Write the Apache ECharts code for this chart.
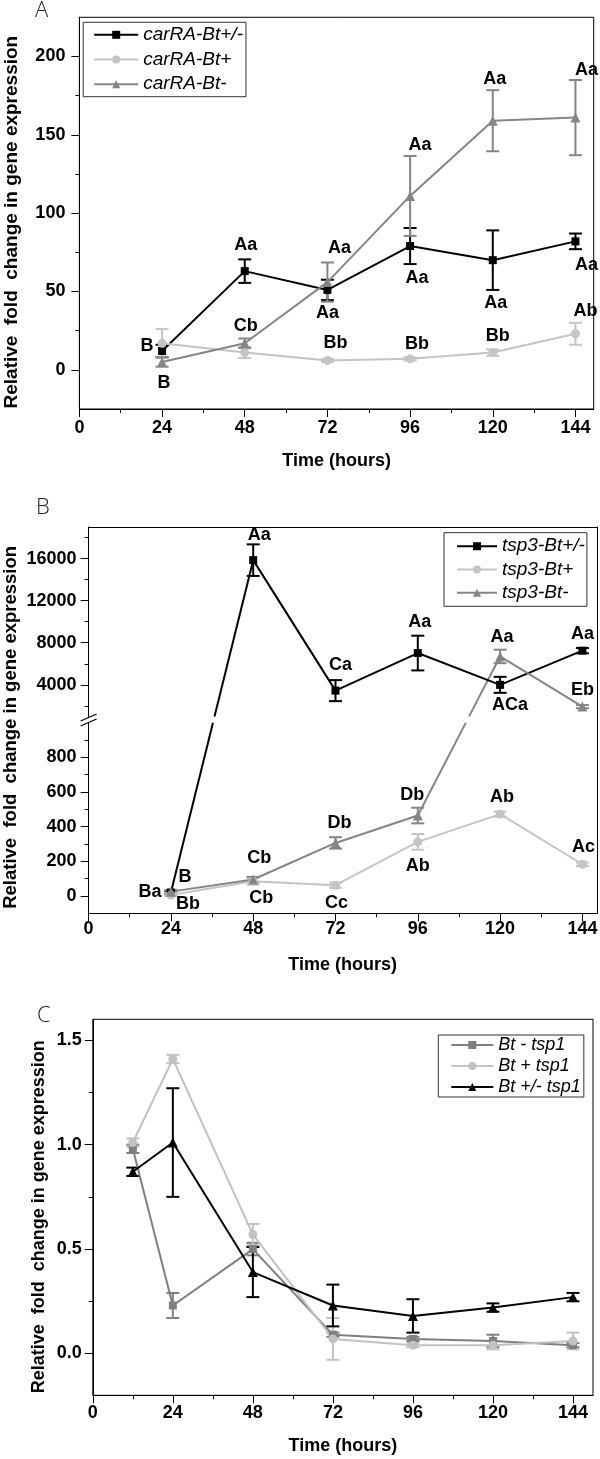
<!DOCTYPE html>
<html>
<head>
<meta charset="utf-8">
<script src="https://cdn.jsdelivr.net/npm/echarts@6.0.0/dist/echarts.min.js"></script>
<style>
html,body{margin:0;padding:0;background:#fff;}
#chart{width:600px;height:1459px;}
</style>
</head>
<body>
<div id="chart"></div>
<script>
// ================= DATA =================
// Panel A: carRA
const hoursA = [24, 48, 72, 96, 120, 144];
const carRA_pm = [12, 63, 51, 79, 70, 82];
const carRA_pm_err = [4, 7.5, 6.5, 11.5, 19, 5];
const carRA_plus = [17, 11, 6, 7, 11, 23];
const carRA_plus_err = [9, 3.5, 1, 1, 2, 7];
const carRA_minus = [5, 17, 56, 111, 159, 161];
const carRA_minus_err = [3, 3, 12.5, 25.5, 19.5, 24];

// Panel B: tsp3 (broken y axis at 1000)
const hoursB = [24, 48, 72, 96, 120, 144];
const tsp3_pm = [20, 15850, 3450, 7020, 4000, 7250];
const tsp3_pm_err = [10, 1500, 1000, 1650, 760, 250];
const tsp3_plus = [5, 85, 62, 312, 472, 183];
const tsp3_plus_err = [5, 20, 15, 45, 15, 10];
const tsp3_minus = [25, 95, 306, 464, 6700, 1930];
const tsp3_minus_err = [10, 15, 33, 45, 640, 150];
const breakB = 1000;

// Panel C: tsp1
const hoursC = [12, 24, 48, 72, 96, 120, 144];
const tsp1_minus = [0.98, 0.23, 0.50, 0.09, 0.07, 0.06, 0.04];
const tsp1_minus_err = [0.02, 0.06, 0.03, 0.01, 0.01, 0.03, 0.01];
const tsp1_plus = [1.01, 1.41, 0.57, 0.07, 0.04, 0.04, 0.06];
const tsp1_plus_err = [0.02, 0.02, 0.05, 0.10, 0.01, 0.02, 0.04];
const tsp1_pm = [0.87, 1.01, 0.39, 0.23, 0.18, 0.22, 0.27];
const tsp1_pm_err = [0.02, 0.26, 0.12, 0.10, 0.08, 0.02, 0.02];

// Tick labels
const ticksX = [0, 24, 48, 72, 96, 120, 144];
const minorX = [12, 36, 60, 84, 108, 132];
const ticksA = [0, 50, 100, 150, 200];
const minorA = [25, 75, 125, 175];
const ticksBup = [4000, 8000, 12000, 16000];
const minorBup = [2000, 6000, 10000, 14000, 18000];
const ticksBlo = [0, 200, 400, 600, 800];
const minorBlo = [100, 300, 500, 700, 900];
const ticksC = [0, 0.5, 1.0, 1.5];
const minorC = [0.25, 0.75, 1.25];

// Significance letters: [text, series key, point index]
const lettersA = [
  ['B','pm',0], ['B','minus',0], ['Aa','pm',1], ['Cb','minus',1],
  ['Aa','minus',2], ['Aa','pm',2], ['Bb','plus',2],
  ['Aa','minus',3], ['Aa','pm',3], ['Bb','plus',3],
  ['Aa','minus',4], ['Aa','pm',4], ['Bb','plus',4],
  ['Aa','minus',5], ['Aa','pm',5], ['Ab','plus',5]
];
const lettersB = [
  ['Ba','minus',0], ['B','pm',0], ['Bb','plus',0],
  ['Cb','minus',1], ['Cb','plus',1], ['Db','minus',2], ['Cc','plus',2],
  ['Db','minus',3], ['Ab','plus',3], ['Ab','plus',4], ['Ac','plus',5],
  ['Aa','pm',1], ['Ca','pm',2], ['Aa','pm',3], ['Aa','minus',4],
  ['ACa','pm',4], ['Aa','pm',5], ['Eb','minus',5]
];

// ================= LAYOUT / STYLE =================
const FONT = "'Liberation Sans', Arial, Helvetica, sans-serif";
const BLACK = '#000000', LIGHT = '#c4c4c4', DARK = '#858585';
const CAP = 13;
// pixel offsets of letters from their anchor points
const letterOffsetsA = [[-15,-5],[2,21.5],[1,-26],[1,-17],[12,-34],[0,23.5],[8,-17],
  [10,-51],[7,32],[7,-15],[2,-42],[3,43],[5,-17],[11,-48],[11,24],[10,-23]];
const letterOffsetsB = [[-21,0],[14,-15.5],[17,8.5],[6,-21],[8,17],[4,-20],[1,18],
  [-5.5,-21],[0,24.5],[2,-17],[1,-17],[6,-25],[5,-26],[2,-30.6],[2,-19],[10,20],[0,-17],[0,-17]];

const gridA = {left: 79.4, top: 17.3, width: 514.3, height: 391.7};
const gridBup = {left: 88.6, top: 527, width: 508.2, height: 189.4};
const gridBlo = {left: 88.6, top: 716.4, width: 508.2, height: 196.9};
const gridC = {left: 92.8, top: 1019.3, width: 500.2, height: 376};

const labelStyle = {color: '#000', fontFamily: FONT, fontSize: 18, fontWeight: 'bold'};
const lineSt = {color: '#000', width: 1};

function mainAxis(gi, min, max, ticks, o) {
  const a = {
    type: 'value', gridIndex: gi, min: min, max: max, position: o.position,
    axisLine: {show: true, onZero: false, lineStyle: lineSt},
    axisTick: {show: true, inside: false, length: 8, customValues: ticks, lineStyle: lineSt},
    axisLabel: Object.assign({show: true, customValues: ticks, margin: o.margin,
      formatter: o.formatter || (v => String(v))}, labelStyle),
    splitLine: {show: false}, splitArea: {show: false},
    nameMoveOverlap: false
  };
  if (o.name) {
    a.name = o.name; a.nameLocation = 'middle'; a.nameGap = o.nameGap;
    a.nameTextStyle = {color: '#000', fontFamily: FONT, fontSize: o.nameSize || 18, fontWeight: 'bold', padding: o.namePad || 0};
  }
  return a;
}
function minorAxis(gi, min, max, ticks, position) {
  return {
    type: 'value', gridIndex: gi, min: min, max: max, position: position,
    axisLine: {show: false, onZero: false},
    axisTick: {show: true, inside: false, length: 4, customValues: ticks, lineStyle: lineSt},
    axisLabel: {show: false}, splitLine: {show: false}
  };
}
function frameAxis(gi, min, max, position) {
  return {
    type: 'value', gridIndex: gi, min: min, max: max, position: position,
    axisLine: {show: true, onZero: false, lineStyle: lineSt},
    axisTick: {show: false}, axisLabel: {show: false}, splitLine: {show: false}
  };
}

const Y_TITLE = 'Relative  fold  change in gene expression';
const X_TITLE = 'Time (hours)';

const xAxis = [
  mainAxis(0, 0, 149.3, ticksX, {position: 'bottom', margin: 10, name: X_TITLE, nameGap: 43}), // 0
  minorAxis(0, 0, 149.3, minorX, 'bottom'),                                                 // 1
  frameAxis(1, 0, 148.2, 'top'),                                                            // 2 (B upper data axis)
  mainAxis(2, 0, 148.2, ticksX, {position: 'bottom', margin: 7, name: X_TITLE, nameGap: 43}), // 3
  minorAxis(2, 0, 148.2, minorX, 'bottom'),                                                 // 4
  mainAxis(3, 0, 150, ticksX, {position: 'bottom', margin: 9, name: X_TITLE, nameGap: 42}),   // 5
  minorAxis(3, 0, 150, minorX, 'bottom')                                                    // 6
];
const yAxis = [
  mainAxis(0, -25, 225, ticksA, {position: 'left', margin: 14, name: Y_TITLE, nameGap: 58, nameSize: 19, namePad: [0, 18, 0, 0]}), // 0
  minorAxis(0, -25, 225, minorA, 'left'),                 // 1
  mainAxis(1, 1000, 19000, ticksBup, {position: 'left', margin: 12}), // 2
  minorAxis(1, 1000, 19000, minorBup, 'left'),            // 3
  frameAxis(1, 1000, 19000, 'right'),                     // 4
  mainAxis(2, -100, 1036, ticksBlo, {position: 'left', margin: 12, name: Y_TITLE, nameGap: 68, nameSize: 18.5, namePad: [0, 0, 0, 175]}), // 5
  minorAxis(2, -100, 1036, minorBlo, 'left'),             // 6
  frameAxis(2, -100, 1036, 'right'),                      // 7
  mainAxis(3, -0.2, 1.6, ticksC, {position: 'left', margin: 11, formatter: v => Number(v).toFixed(1), name: Y_TITLE, nameGap: 45, nameSize: 18, namePad: [0, 19, 0, 0]}), // 8
  minorAxis(3, -0.2, 1.6, minorC, 'left')                 // 9
];

const series = [];
function addLine(name, xi, yi, xs, ys, color, symbol, size) {
  series.push({
    type: 'line', name: name, xAxisIndex: xi, yAxisIndex: yi,
    data: xs.map((x, i) => [x, ys[i]]),
    symbol: symbol, symbolSize: size, showSymbol: true, showAllSymbol: true,
    connectNulls: false, clip: true,
    lineStyle: {color: color, width: 2}, itemStyle: {color: color},
    emphasis: {disabled: true}, animation: false
  });
}
function addErr(xi, yi, xs, ys, es, color, keep) {
  const data = [];
  xs.forEach((x, i) => { if (!keep || keep(ys[i])) data.push([x, ys[i] - es[i], ys[i] + es[i]]); });
  series.push({
    type: 'custom', xAxisIndex: xi, yAxisIndex: yi, data: data,
    encode: {x: 0, y: [1, 2]}, silent: true, animation: false, clip: false,
    renderItem: function (params, api) {
      const x = api.value(0);
      const p1 = api.coord([x, api.value(1)]);
      const p2 = api.coord([x, api.value(2)]);
      const hw = CAP / 2;
      const st = {stroke: color, lineWidth: 2};
      return {type: 'group', children: [
        {type: 'line', shape: {x1: p1[0], y1: p1[1], x2: p2[0], y2: p2[1]}, style: st},
        {type: 'line', shape: {x1: p1[0] - hw, y1: p1[1], x2: p1[0] + hw, y2: p1[1]}, style: st},
        {type: 'line', shape: {x1: p2[0] - hw, y1: p2[1], x2: p2[0] + hw, y2: p2[1]}, style: st}
      ]};
    }
  });
}
function addLetters(letters, offsets, lookup, axesFor) {
  const groups = {};
  letters.forEach((L, k) => {
    const s = lookup[L[1]];
    const x = s.xs[L[2]], y = s.ys[L[2]];
    const ax = axesFor(y);
    const key = ax.join(',');
    (groups[key] = groups[key] || {ax: ax, data: []}).data.push({name: L[0], value: [x, y], label: {offset: offsets[k]}});
  });
  Object.keys(groups).forEach(key => {
    const g = groups[key];
    series.push({
      type: 'scatter', xAxisIndex: g.ax[0], yAxisIndex: g.ax[1], symbolSize: 0,
      itemStyle: {color: '#000', opacity: 1}, z: 6, silent: true, animation: false, clip: false,
      label: Object.assign({show: true, position: 'inside', formatter: '{b}', opacity: 1,
        textBorderWidth: 0, textShadowBlur: 0}, labelStyle),
      emphasis: {disabled: true}, data: g.data
    });
  });
}

// ---- Panel A series ----
addLine('carRA-Bt+/-', 0, 0, hoursA, carRA_pm, BLACK, 'rect', 8);
addErr(0, 0, hoursA, carRA_pm, carRA_pm_err, BLACK);
addLine('carRA-Bt+', 0, 0, hoursA, carRA_plus, LIGHT, 'circle', 9);
addErr(0, 0, hoursA, carRA_plus, carRA_plus_err, LIGHT);
addLine('carRA-Bt-', 0, 0, hoursA, carRA_minus, DARK, 'triangle', 10);
addErr(0, 0, hoursA, carRA_minus, carRA_minus_err, DARK);
addLetters(lettersA, letterOffsetsA,
  {pm: {xs: hoursA, ys: carRA_pm}, plus: {xs: hoursA, ys: carRA_plus}, minus: {xs: hoursA, ys: carRA_minus}},
  () => [0, 0]);

// ---- Panel B series (split at the axis break) ----
const isUp = v => v > breakB;
const isLo = v => v <= breakB;
const upPart = ys => ys.map(v => isUp(v) ? v : '-');
const loPart = ys => ys.map(v => isLo(v) ? v : '-');
[['tsp3-Bt+/-', tsp3_pm, tsp3_pm_err, BLACK, 'rect', 8],
 ['tsp3-Bt+', tsp3_plus, tsp3_plus_err, LIGHT, 'circle', 9],
 ['tsp3-Bt-', tsp3_minus, tsp3_minus_err, DARK, 'triangle', 10]].forEach(s => {
  addLine(s[0], 3, 5, hoursB, loPart(s[1]), s[3], s[4], s[5]);
  addErr(3, 5, hoursB, s[1], s[2], s[3], isLo);
  addLine(s[0], 2, 2, hoursB, upPart(s[1]), s[3], s[4], s[5]);
  addErr(2, 2, hoursB, s[1], s[2], s[3], isUp);
});
addLetters(lettersB, letterOffsetsB,
  {pm: {xs: hoursB, ys: tsp3_pm}, plus: {xs: hoursB, ys: tsp3_plus}, minus: {xs: hoursB, ys: tsp3_minus}},
  v => isUp(v) ? [2, 2] : [3, 5]);

// ---- Panel C series ----
addLine('Bt - tsp1', 5, 8, hoursC, tsp1_minus, '#7f7f7f', 'rect', 8);
addErr(5, 8, hoursC, tsp1_minus, tsp1_minus_err, '#7f7f7f');
addLine('Bt + tsp1', 5, 8, hoursC, tsp1_plus, '#c2c2c2', 'circle', 9);
addErr(5, 8, hoursC, tsp1_plus, tsp1_plus_err, '#c2c2c2');
addLine('Bt +/- tsp1', 5, 8, hoursC, tsp1_pm, BLACK, 'triangle', 10);
addErr(5, 8, hoursC, tsp1_pm, tsp1_pm_err, BLACK);

function legendAt(names, left, top, o) {
  return {
    data: names, orient: 'vertical', left: left, top: top,
    itemWidth: o.itemWidth, itemHeight: 10, itemGap: o.gap, padding: o.padding,
    borderColor: '#333', borderWidth: 1, backgroundColor: '#fff', selectedMode: false,
    textStyle: {color: '#000', fontFamily: FONT, fontStyle: 'italic', fontSize: o.fontSize}
  };
}

const panelLetter = (t, left, top) => ({
  text: t, left: left, top: top, padding: 0,
  textStyle: {fontFamily: "'Open Sans', 'DejaVu Sans', sans-serif", fontWeight: 300, fontSize: 22, color: '#222'}
});

const option = {
  animation: false,
  backgroundColor: '#fff',
  textStyle: {fontFamily: FONT},
  title: [panelLetter('A', 35, 0), panelLetter('B', 36, 497), panelLetter('C', 37, 1005)],
  grid: [
    Object.assign({show: true, borderColor: '#000', borderWidth: 1, outerBoundsMode: 'none', containLabel: false}, gridA),
    Object.assign({show: false, outerBoundsMode: 'none', containLabel: false}, gridBup),
    Object.assign({show: false, outerBoundsMode: 'none', containLabel: false}, gridBlo),
    Object.assign({show: true, borderColor: '#000', borderWidth: 1, outerBoundsMode: 'none', containLabel: false}, gridC)
  ],
  legend: [
    legendAt(['carRA-Bt+/-', 'carRA-Bt+', 'carRA-Bt-'], 83.2, 22.3, {itemWidth: 44, gap: 5.7, padding: [3, 3, 3, 10], fontSize: 19}),
    legendAt(['tsp3-Bt+/-', 'tsp3-Bt+', 'tsp3-Bt-'], 444, 532.7, {itemWidth: 40, gap: 4.3, padding: [4, 2, 4, 12], fontSize: 19}),
    legendAt(['Bt - tsp1', 'Bt + tsp1', 'Bt +/- tsp1'], 438.3, 1035, {itemWidth: 42, gap: 3, padding: [1, 3, 1, 12], fontSize: 18})
  ],
  xAxis: xAxis,
  yAxis: yAxis,
  series: series
};

const chart = echarts.init(document.getElementById('chart'), null, {renderer: 'canvas'});
chart.setOption(option);

// ---- Lines crossing the axis break in panel B, positioned by the library's own scales ----
const upF = {xAxisIndex: 2, yAxisIndex: 2};
const loF = {xAxisIndex: 3, yAxisIndex: 5};
const pix = (f, x, y) => chart.convertToPixel(f, [x, y]);
const extra = [];
[[tsp3_pm, BLACK], [tsp3_plus, LIGHT], [tsp3_minus, DARK]].forEach(pair => {
  const ys = pair[0], color = pair[1];
  for (let i = 0; i < ys.length - 1; i++) {
    const a = isUp(ys[i]), b = isUp(ys[i + 1]);
    if (a === b) continue;
    const li = a ? i + 1 : i, ui = a ? i : i + 1;
    const L = pix(loF, hoursB[li], ys[li]);
    const U = pix(upF, hoursB[ui], ys[ui]);
    const yLo = pix(loF, hoursB[li], breakB)[1];
    const yUp = pix(upF, hoursB[ui], breakB)[1];
    const at = yy => { const t = (yy - L[1]) / (U[1] - L[1]); return [L[0] + t * (U[0] - L[0]), yy]; };
    const m1 = at(yLo), m2 = at(yUp);
    const st = {stroke: color, lineWidth: 2};
    extra.push({type: 'line', z: 1, silent: true, shape: {x1: L[0], y1: L[1], x2: m1[0], y2: m1[1]}, style: st});
    extra.push({type: 'line', z: 1, silent: true, shape: {x1: m2[0], y1: m2[1], x2: U[0], y2: U[1]}, style: st});
  }
});
// break symbol on the left axis
const bx = pix(loF, 0, breakB)[0];
const by = (pix(loF, 0, breakB)[1] + pix(upF, 0, breakB)[1]) / 2;
extra.push({type: 'polygon', z: 20, silent: true, shape: {points: [[bx - 8, by + 2], [bx + 8, by - 5], [bx + 8, by - 1], [bx - 8, by + 6]]}, style: {fill: '#fff'}});
extra.push({type: 'line', z: 21, silent: true, shape: {x1: bx - 8, y1: by + 1.5, x2: bx + 8, y2: by - 5.5}, style: {stroke: '#000', lineWidth: 1.2}});
extra.push({type: 'line', z: 21, silent: true, shape: {x1: bx - 8, y1: by + 6.5, x2: bx + 8, y2: by - 0.5}, style: {stroke: '#000', lineWidth: 1.2}});
chart.setOption({graphic: {elements: extra}});
</script>
</body>
</html>
